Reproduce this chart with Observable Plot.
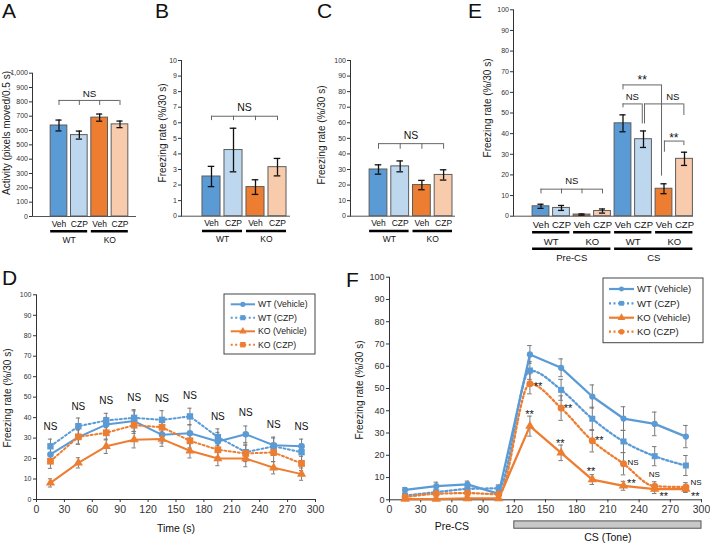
<!DOCTYPE html>
<html>
<head>
<meta charset="utf-8">
<script src="https://cdn.jsdelivr.net/npm/d3@7"></script>
<script src="https://cdn.jsdelivr.net/npm/@observablehq/plot@0.6"></script>
<style>
html,body{margin:0;padding:0;background:#fff;}
#fig{position:relative;width:710px;height:544px;overflow:hidden;font-family:"Liberation Sans",Arial,Helvetica,sans-serif;color:#1a1a1a;}
#fig svg.layer{position:absolute;left:0;top:0;max-width:none;}
.panel-letter{position:absolute;font-size:21px;line-height:1;color:#111;}
.ylab{position:absolute;white-space:nowrap;line-height:1;transform:translate(-50%,-50%) rotate(-90deg);font-size:10px;color:#222;}
.big-x g[aria-label^="x-axis"] text{font-size:10.5px;}
.f-y g[aria-label^="y-axis"] text{font-size:9px;}
</style>
</head>
<body>
<div id="fig"></div>
<script>
// ---------------- DATA ----------------
const drugs = ["Veh", "CZP", "Veh", "CZP"];
const genotypes = ["WT", "WT", "KO", "KO"];
const barColors = ["#5b9bd5", "#bdd7ee", "#ed7d31", "#f8cbad"];

// A: activity
const activityMean = [635, 568, 690, 643];
const activitySem = [38, 28, 25, 23];
// B: freezing (pre-conditioning)
const preMean = [2.55, 4.25, 1.87, 3.15];
const preSem = [0.65, 1.4, 0.47, 0.56];
// C: contextual freezing
const ctxMean = [30, 32, 20, 26.5];
const ctxSem = [3, 3.5, 3, 3.3];
// E: cued freezing
const cuePhases = ["Pre-CS", "Pre-CS", "Pre-CS", "Pre-CS", "CS", "CS", "CS", "CS"];
const cueGenotypes = ["WT", "WT", "KO", "KO", "WT", "WT", "KO", "KO"];
const cueDrugs = ["Veh", "CZP", "Veh", "CZP", "Veh", "CZP", "Veh", "CZP"];
const cueColors = barColors.concat(barColors);
const cueMean = [4.8, 4.0, 0.8, 2.5, 45.0, 37.3, 13.3, 27.8];
const cueSem = [1.0, 1.2, 0.3, 1.0, 4.1, 4.0, 2.4, 3.2];

// D / F time courses
const timeBins = [15, 45, 75, 105, 135, 165, 195, 225, 255, 285];
const seriesNames = ["WT (Vehicle)", "WT (CZP)", "KO (Vehicle)", "KO (CZP)"];

const dWTVeh = [22, 30.5, 36.6, 38.3, 31.6, 32.4, 28.3, 31.9, 26.5, 26];
const dWTCzp = [26, 35.8, 38.6, 39.9, 38.9, 40.6, 30.5, 23.1, 26, 23.1];
const dKOVeh = [8.1, 17.9, 26, 29.2, 29.5, 23.8, 20, 20, 15.5, 12.4];
const dKOCzp = [18.7, 30.6, 32.6, 36.3, 35.3, 28.7, 24.3, 22.5, 23, 17.6];
const dWTVehSem = [3.5, 3.5, 3.5, 5, 4, 4, 4.5, 4, 3.5, 3.5];
const dWTCzpSem = [3.5, 4, 3.5, 4, 4.5, 4, 4, 4, 4.5, 4];
const dKOVehSem = [2, 2.5, 3.5, 4, 3.5, 3.5, 3.5, 4, 3, 3];
const dKOCzpSem = [3.5, 3.5, 3.5, 4, 4, 3.5, 3.5, 4, 4.5, 3.5];
const dStatLabels = ["NS", "NS", "NS", "NS", "NS", "NS", "NS", "NS", "NS", "NS"];
const dStatY = [35.3, 45.4, 48.4, 49.5, 49.2, 50.5, 40.5, 42.2, 36.6, 35.6];

const fWTVeh = [4.5, 6.1, 6.9, 2.7, 65.3, 59.3, 46.4, 36.5, 34.1, 28.4];
const fWTCzp = [1.9, 3.4, 4.9, 5.2, 58.1, 49.4, 36.4, 26.2, 19.6, 15.4];
const fKOVeh = [0.3, 0.3, 0.6, 0.6, 33.1, 21.1, 9.1, 6.3, 4.8, 4.8];
const fKOCzp = [1.3, 2.7, 3.0, 2.5, 52.1, 41.2, 26.5, 16.2, 6.1, 5.7];
const fWTVehSem = [1, 1.8, 1.5, 1, 4, 4, 5.2, 5.3, 5.3, 5];
const fWTCzpSem = [1, 1.5, 1.5, 1.5, 4, 4.7, 5.2, 5, 4.3, 4.5];
const fKOVehSem = [0.3, 0.3, 0.5, 0.5, 4.5, 3.5, 2.2, 2, 2, 1.5];
const fKOCzpSem = [1, 1.5, 1.5, 1.5, 4.5, 5.5, 5, 5, 2, 2];
// statistics annotations (KO CZP vs WT and KO Veh vs WT)
const fCzpStatLabels = ["**", "**", "**", "NS", "NS", "NS"];
const fCzpStatX = [142.8, 171.7, 201.8, 234.2, 254.7, 294.8];
const fCzpStatY = [52.4, 42.4, 27.8, 16.9, 11.4, 7.9];
const fVehStatLabels = ["**", "**", "**", "**", "**", "**"];
const fVehStatX = [134.7, 164.3, 193.8, 232.6, 263.7, 294.1];
const fVehStatY = [39.8, 26.6, 13.9, 8.7, 2.7, 2.7];
const csPeriod = [120, 300];
const preCsPeriod = [0, 120];

// ---------------- HELPERS ----------------
const FONT = '"Liberation Sans", Arial, Helvetica, sans-serif';
const fig = document.getElementById("fig");
const W = 710, H = 544;

function addLayer(svg, cls) {
  svg.classList.add("layer");
  if (cls) cls.split(" ").forEach(c => svg.classList.add(c));
  fig.appendChild(svg);
}
function baseStyle(fs) {
  return {background: "transparent", fontFamily: FONT, fontSize: fs + "px", color: "#333", overflow: "visible"};
}
function runs(labels) {
  const out = [];
  labels.forEach((l, i) => {
    const last = out[out.length - 1];
    if (last && last.name === l && last.to === i - 1) last.to = i;
    else out.push({name: l, from: i, to: i});
  });
  return out;
}
function html(cls, text, css) {
  const d = document.createElement("div");
  d.className = cls; d.textContent = text;
  Object.assign(d.style, css);
  fig.appendChild(d);
}

function barPanel(cfg) {
  const hw = 0.41, cw = 0.15;
  const bars = cfg.mean.map((m, i) => ({i, m, lo: m - cfg.sem[i], hi: m + cfg.sem[i], drug: cfg.drugs[i], color: cfg.colors[i]}));
  const marks = [
    Plot.ruleY([0], {stroke: "#555", strokeWidth: 1}),
    Plot.rect(bars, {x1: d => d.i - hw, x2: d => d.i + hw, y1: 0, y2: "m", fill: "color", stroke: "#5c5c5c", strokeWidth: 1}),
    Plot.ruleX(bars, {x: "i", y1: "lo", y2: "hi", stroke: "#111", strokeWidth: 1.3}),
    Plot.ruleY(bars, {y: "hi", x1: d => d.i - cw, x2: d => d.i + cw, stroke: "#111", strokeWidth: 1.3}),
    Plot.ruleY(bars, {y: "lo", x1: d => d.i - cw, x2: d => d.i + cw, stroke: "#111", strokeWidth: 1.3}),
    Plot.text(bars, {x: "i", y: 0, text: "drug", dy: cfg.drugDy, fontSize: cfg.labelSize, fill: "#111"})
  ];
  cfg.levels.forEach(lv => {
    const g = runs(lv.labels);
    marks.push(Plot.ruleY(g, {y: 0, x1: d => d.from - hw, x2: d => d.to + hw, dy: lv.lineDy, stroke: "#000", strokeWidth: 2.6}));
    marks.push(Plot.text(g, {x: d => (d.from + d.to) / 2, y: 0, text: "name", dy: lv.textDy, fontSize: cfg.labelSize, fill: "#111"}));
  });
  const legs = [];
  cfg.brackets.forEach(b => b.legs.forEach(([x, bottom]) => legs.push({x, top: b.y, bottom})));
  marks.push(Plot.ruleY(cfg.brackets, {y: "y", x1: "x1", x2: "x2", stroke: "#666", strokeWidth: 1}));
  marks.push(Plot.ruleX(legs, {x: "x", y1: "top", y2: "bottom", stroke: "#666", strokeWidth: 1}));
  marks.push(Plot.text(cfg.brackets.filter(b => b.label === "NS"), {x: "lx", y: "ly", text: "label", fontSize: cfg.nsSize, fill: "#111"}));
  marks.push(Plot.text(cfg.brackets.filter(b => b.label !== "NS"), {x: "lx", y: "ly", text: "label", fontSize: 12, dy: 3, fill: "#111"}));

  const svg = Plot.plot({
    width: W, height: H,
    marginLeft: cfg.axisX, marginRight: W - cfg.xEnd,
    marginTop: cfg.yTop, marginBottom: H - cfg.yZero,
    x: {domain: [(cfg.axisX - cfg.c0) / cfg.step, (cfg.xEnd - cfg.c0) / cfg.step], axis: null},
    y: {domain: [0, cfg.yMax], ticks: d3.range(0, cfg.yMax + cfg.yStep / 2, cfg.yStep), tickSize: 3, tickPadding: 1.5, line: true, label: null},
    color: {type: "identity"},
    style: baseStyle(7),
    marks
  });
  addLayer(svg);
}

const lineStylesD = [
  {color: "#5b9bd5", dash: null, symbol: "circle", r: 3.3},
  {color: "#5b9bd5", dash: "2,2.5", symbol: "square", r: 3.6},
  {color: "#ed7d31", dash: null, symbol: "triangle", r: 3.4},
  {color: "#ed7d31", dash: "2,2.5", symbol: "square", r: 3.8}
];
const lineStylesF = [
  {color: "#5b9bd5", dash: null, symbol: "circle", r: 3.1},
  {color: "#5b9bd5", dash: "2,2.5", symbol: "square", r: 3.4},
  {color: "#ed7d31", dash: null, symbol: "triangle", r: 3.5},
  {color: "#ed7d31", dash: "2,2.5", symbol: "circle", r: 3.5}
];

function linePanel(cfg) {
  const rows = [];
  cfg.series.forEach((vals, s) => vals.forEach((v, k) => rows.push({s, t: timeBins[k], v, lo: v - cfg.sems[s][k], hi: v + cfg.sems[s][k]})));
  const marks = [
    Plot.ruleX(rows, {x: "t", y1: "lo", y2: "hi", stroke: "#7a7a7a", strokeWidth: 1}),
    Plot.ruleY(rows, {y: "hi", x1: d => d.t - 2.2, x2: d => d.t + 2.2, stroke: "#7a7a7a", strokeWidth: 1}),
    Plot.ruleY(rows, {y: "lo", x1: d => d.t - 2.2, x2: d => d.t + 2.2, stroke: "#7a7a7a", strokeWidth: 1})
  ];
  cfg.styles.forEach((st, s) => {
    const d = rows.filter(r => r.s === s);
    const o = {x: "t", y: "v", stroke: st.color, strokeWidth: cfg.lw, curve: (st.dash && cfg.smooth) ? "monotone-x" : "linear"};
    if (st.dash) o.strokeDasharray = st.dash;
    marks.push(Plot.line(d, o));
  });
  cfg.styles.forEach((st, s) => {
    const d = rows.filter(r => r.s === s);
    marks.push(Plot.dot(d, {x: "t", y: "v", symbol: st.symbol, r: st.r, fill: st.color, stroke: "none"}));
  });
  marks.push(...cfg.extra);
  const svg = Plot.plot({
    width: W, height: H,
    marginLeft: cfg.left, marginRight: W - cfg.right,
    marginTop: cfg.top, marginBottom: H - cfg.bottom,
    x: {domain: [0, 300], ticks: d3.range(0, 301, 30), tickSize: 3, tickPadding: 3, line: true, label: null},
    y: {domain: [0, 100], ticks: d3.range(0, 101, 10), tickSize: 3, tickPadding: 2, line: true, label: null},
    style: baseStyle(cfg.yFont),
    marks
  });
  addLayer(svg, cfg.cls);
}

const symbolMap = {circle: d3.symbolCircle, square: d3.symbolSquare, triangle: d3.symbolTriangle};
function drawLegend(cfg) {
  const svg = d3.select(fig).append("svg").attr("class", "layer")
    .attr("width", cfg.width + 2).attr("height", cfg.height + 2)
    .style("left", (cfg.left - 1) + "px").style("top", (cfg.top - 1) + "px");
  svg.append("rect").attr("x", 1).attr("y", 1).attr("width", cfg.width).attr("height", cfg.height)
    .attr("fill", "#fff").attr("stroke", "#444").attr("stroke-width", 1);
  seriesNames.forEach((name, s) => {
    const st = cfg.styles[s], y = 1 + cfg.rows[s];
    svg.append("line").attr("x1", 1 + cfg.sx0).attr("x2", 1 + cfg.sx1).attr("y1", y).attr("y2", y)
      .attr("stroke", st.color).attr("stroke-width", cfg.lw).attr("stroke-dasharray", st.dash);
    const r = st.r * 0.8;
    svg.append("path").attr("d", d3.symbol(symbolMap[st.symbol], Math.PI * r * r)())
      .attr("transform", `translate(${1 + (cfg.sx0 + cfg.sx1) / 2},${y})`).attr("fill", st.color);
    svg.append("text").attr("x", 1 + cfg.tx).attr("y", y).attr("dy", "0.35em")
      .attr("font-size", cfg.fontSize).attr("font-family", FONT).attr("fill", "#222").text(name);
  });
}

// ---------------- PANELS ----------------
// A
barPanel({
  mean: activityMean, sem: activitySem, drugs, colors: barColors,
  axisX: 32, xEnd: 136, c0: 58.5, step: 20.33, yTop: 72.7, yZero: 216, yMax: 1000, yStep: 100,
  labelSize: 8.5, nsSize: 9.8, drugDy: 7.5, levels: [{labels: genotypes, lineDy: 14.8, textDy: 23.5}],
  brackets: [{x1: 0, x2: 3, y: 810, legs: [[0, 775], [1, 775], [2, 775], [3, 775]], label: "NS", lx: 1.5, ly: 858}]
});
// B
barPanel({
  mean: preMean, sem: preSem, drugs, colors: barColors,
  axisX: 181, xEnd: 290, c0: 211, step: 22, yTop: 60, yZero: 215.7, yMax: 10, yStep: 1,
  labelSize: 8.5, nsSize: 10.5, drugDy: 7, levels: [{labels: genotypes, lineDy: 14.8, textDy: 23.5}],
  brackets: [{x1: 0, x2: 3, y: 6.42, legs: [[0, 6.14], [1, 6.14], [2, 6.14], [3, 6.14]], label: "NS", lx: 1.5, ly: 6.98}]
});
// C
barPanel({
  mean: ctxMean, sem: ctxSem, drugs, colors: barColors,
  axisX: 350, xEnd: 455, c0: 378, step: 21.7, yTop: 60, yZero: 215.7, yMax: 100, yStep: 10,
  labelSize: 8.5, nsSize: 10.5, drugDy: 7, levels: [{labels: genotypes, lineDy: 14.8, textDy: 23.5}],
  brackets: [{x1: 0, x2: 3, y: 46.6, legs: [[0, 43], [1, 43], [2, 43], [3, 43]], label: "NS", lx: 1.5, ly: 51.8}]
});
// E
barPanel({
  mean: cueMean, sem: cueSem, drugs: cueDrugs, colors: cueColors,
  axisX: 513, xEnd: 693, c0: 540.5, step: 20.5, yTop: 9.3, yZero: 215.7, yMax: 100, yStep: 10,
  labelSize: 9.5, nsSize: 9.5, drugDy: 8.6,
  levels: [{labels: cueGenotypes, lineDy: 16, textDy: 26}, {labels: cuePhases, lineDy: 32.6, textDy: 42}],
  brackets: [
    {x1: 0, x2: 3, y: 13.1, legs: [[0, 10.8], [1, 10.8], [2, 10.8], [3, 10.8]], label: "NS", lx: 1.5, ly: 17.2},
    {x1: 4, x2: 5.88, y: 63.6, legs: [[4, 61.2], [5.88, 19.4]], label: "**", lx: 4.94, ly: 67.4},
    {x1: 4, x2: 4.94, y: 54.4, legs: [[4, 52.5], [4.94, 44.7]], label: "NS", lx: 4.45, ly: 57.7},
    {x1: 5.05, x2: 6.97, y: 54.4, legs: [[5.05, 44.7], [6.97, 48.8]], label: "NS", lx: 6.43, ly: 57.7},
    {x1: 6.02, x2: 6.97, y: 36.4, legs: [[6.02, 31], [6.97, 34.2]], label: "**", lx: 6.48, ly: 39.1}
  ]
});

// D
linePanel({
  series: [dWTVeh, dWTCzp, dKOVeh, dKOCzp], sems: [dWTVehSem, dWTCzpSem, dKOVehSem, dKOCzpSem],
  styles: lineStylesD, lw: 2, smooth: false,
  left: 36, right: 315, top: 294.3, bottom: 499, yFont: 7, cls: "big-x",
  extra: [
    Plot.text(timeBins, {x: d => d, y: (d, i) => dStatY[i], text: (d, i) => dStatLabels[i], fontSize: 10, fill: "#111"}),
    Plot.text(["Time (s)"], {x: 150, y: -14.2, text: d => d, fontSize: 10.5, fill: "#111"})
  ]
});
// F
linePanel({
  series: [fWTVeh, fWTCzp, fKOVeh, fKOCzp], sems: [fWTVehSem, fWTCzpSem, fKOVehSem, fKOCzpSem],
  styles: lineStylesF, lw: 2.3, smooth: true,
  left: 389, right: 701, top: 276.7, bottom: 499.3, yFont: 9, cls: "big-x f-y",
  extra: [
    Plot.rect([csPeriod], {x1: d => d[0], x2: d => d[1], y1: -9.7, y2: -13, fill: "#c8c8c8", stroke: "#555", strokeWidth: 1}),
    Plot.text([csPeriod], {x: d => (d[0] + d[1]) / 2, y: -17, text: () => "CS (Tone)", fontSize: 10.5, fill: "#111"}),
    Plot.text([preCsPeriod], {x: d => (d[0] + d[1]) / 2, y: -12, text: () => "Pre-CS", fontSize: 10.5, fill: "#111"}),
    Plot.text(fCzpStatLabels.map((l, i) => i).filter(i => fCzpStatLabels[i] === "NS"), {x: i => fCzpStatX[i], y: i => fCzpStatY[i], text: i => fCzpStatLabels[i], fontSize: 8, fill: "#111"}),
    Plot.text(fCzpStatLabels.map((l, i) => i).filter(i => fCzpStatLabels[i] !== "NS"), {x: i => fCzpStatX[i], y: i => fCzpStatY[i], text: i => fCzpStatLabels[i], fontSize: 11, dy: 3, fill: "#111"}),
    Plot.text(fVehStatLabels.map((l, i) => i), {x: i => fVehStatX[i], y: i => fVehStatY[i], text: i => fVehStatLabels[i], fontSize: 11, dy: 3, fill: "#111"})
  ]
});

// legends
drawLegend({left: 224, top: 294, width: 91, height: 60, rows: [10.3, 23.7, 37.3, 50.7], sx0: 6.7, sx1: 31, tx: 34, fontSize: 8.7, styles: lineStylesD, lw: 2});
drawLegend({left: 603, top: 278, width: 100, height: 64.7, rows: [11, 25.3, 39.7, 53.7], sx0: 6, sx1: 31, tx: 34, fontSize: 9.5, styles: lineStylesF, lw: 2.2});

// panel letters
[["A", 2, 0], ["B", 155, 0], ["C", 317, 0], ["E", 468, 0], ["D", 2, 267], ["F", 346, 269]].forEach(([t, x, y]) =>
  html("panel-letter", t, {left: x + "px", top: y + "px"}));

// y-axis titles
[["Activity (pixels moved/0.5 s)", 7, 133], ["Freezing rate (%/30 s)", 163, 133], ["Freezing rate (%/30 s)", 322, 135],
 ["Freezing rate (%/30 s)", 488, 108], ["Freezing rate (%/30 s)", 8, 398], ["Freezing rate (%/30 s)", 360, 390]].forEach(([t, x, y]) =>
  html("ylab", t, {left: x + "px", top: y + "px"}));
</script>
</body>
</html>
